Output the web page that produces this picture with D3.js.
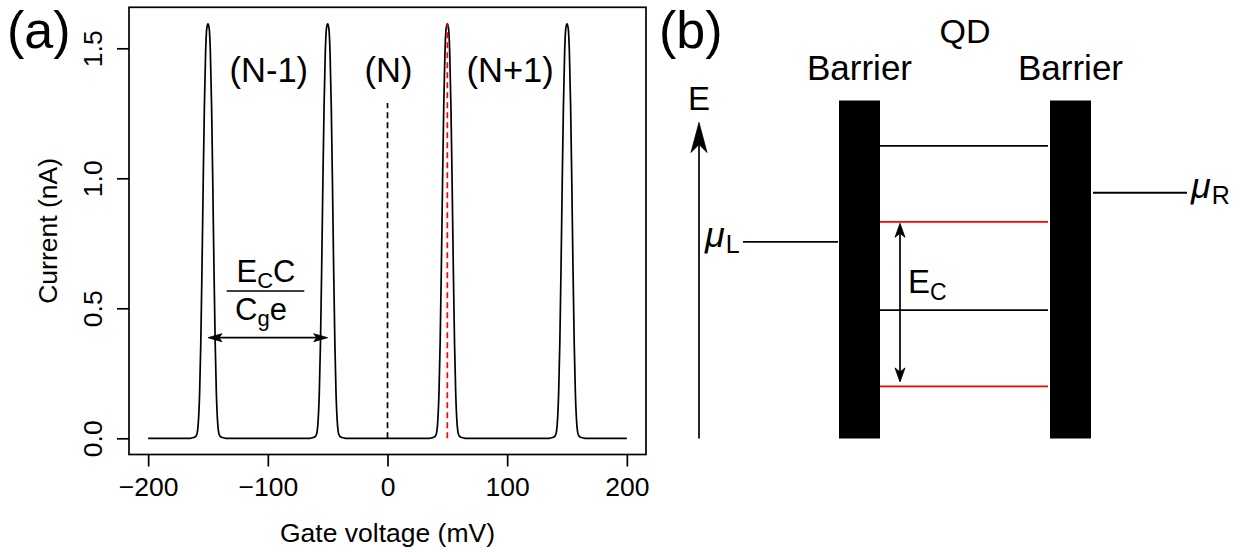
<!DOCTYPE html>
<html>
<head>
<meta charset="utf-8">
<script src="https://cdn.jsdelivr.net/npm/d3@7"></script>
<style>
  html, body { margin: 0; padding: 0; background: #fff; }
  svg { display: block; }
  text { font-family: "Liberation Sans", Arial, Helvetica, sans-serif; fill: #000; }
</style>
</head>
<body>
<svg id="fig" width="1249" height="552"></svg>
<script>
// ---------- data: panel (a), Coulomb blockade peaks ----------
const gateTicks = [-200, -100, 0, 100, 200];          // mV
const currentTicks = [0, 0.5, 1.0, 1.5];               // nA
const gateRange = [-200, 200];                          // sweep limits, mV
const peakCentres = [-150, -50, 50, 150];               // mV
// one peak, read as offset from its centre (mV) and current (nA)
const peakOffset  = [-16, -14, -12, -11, -10, -9, -8, -7, -6, -5, -4, -3, -2, -1, 0,
                      1, 2, 3, 4, 5, 6, 7, 8, 9, 10, 11, 12, 14, 16];
const peakCurrent = [0, 0.001, 0.003, 0.005, 0.009, 0.021, 0.066, 0.172, 0.369, 0.655, 0.983, 1.279, 1.482, 1.577, 1.594,
                      1.577, 1.482, 1.279, 0.983, 0.655, 0.369, 0.172, 0.066, 0.021, 0.009, 0.005, 0.003, 0.001, 0];
const stateLabels = ["(N-1)", "(N)", "(N+1)"];
const stateGate   = [-100, 0, 100];                     // mV, label centres
const blackMarker = { gate: 0, top: 1.29 };             // dashed guide in (N)
const redMarker   = { gate: 50, top: 1.594 };           // dashed guide on N->N+1 peak
const spacingArrow = { from: -150, to: -50, current: 0.387 };

// ---------- data: panel (b), energy diagram (arbitrary energy units) ----------
const dotLevels        = [8.66, 3.80];   // black levels in the dot
const transitionLevels = [6.41, 1.54];   // red levels in the dot
const leadLeft  = 5.82;                  // mu_L
const leadRight = 7.27;                  // mu_R
const barrierTop = 10;
const energyAxisTop = 9.35;

const svg = d3.select("#fig");

// ====================== panel (a) ======================
const box = { left: 129, right: 646, top: 7.3, bottom: 454.5 };
const x = d3.scaleLinear().domain([-216, 216]).range([box.left, box.right]);
const y = d3.scaleLinear().domain([-0.0623, 1.6577]).range([box.bottom, box.top]);

const gA = svg.append("g");

// series assembled from the sampled peak profile
const series = [[gateRange[0], 0]];
peakCentres.forEach(c => peakOffset.forEach((o, i) => series.push([c + o, peakCurrent[i]])));
series.push([gateRange[1], 0]);
series.sort((a, b) => a[0] - b[0]);

const line = d3.line().x(d => x(d[0])).y(d => y(d[1])).curve(d3.curveMonotoneX);
gA.append("path").datum(series)
  .attr("d", line).attr("fill", "none").attr("stroke", "#000").attr("stroke-width", 1.7);

// dashed guides
gA.append("line")
  .attr("x1", x(blackMarker.gate)).attr("x2", x(blackMarker.gate))
  .attr("y1", y(0)).attr("y2", y(blackMarker.top))
  .attr("stroke", "#000").attr("stroke-width", 1.7).attr("stroke-dasharray", "6,4");
gA.append("line")
  .attr("x1", x(redMarker.gate)).attr("x2", x(redMarker.gate))
  .attr("y1", y(0)).attr("y2", y(redMarker.top))
  .attr("stroke", "#ff0000").attr("stroke-width", 1.7).attr("stroke-dasharray", "6,4");

// frame
gA.append("rect")
  .attr("x", box.left).attr("y", box.top)
  .attr("width", box.right - box.left).attr("height", box.bottom - box.top)
  .attr("fill", "none").attr("stroke", "#000").attr("stroke-width", 1.7);

// axes
const tickFont = 26.5;
const xAxis = d3.axisBottom(x).tickValues(gateTicks).tickSize(12).tickPadding(10.5);
const gx = gA.append("g").attr("transform", `translate(0,${box.bottom})`).call(xAxis);
gx.select(".domain").remove();
gx.selectAll(".tick line").attr("stroke-width", 1.7);
gx.selectAll(".tick text").style("font-size", tickFont + "px").attr("font-family", null);

const yAxis = d3.axisLeft(y).tickValues(currentTicks).tickFormat(d3.format(".1f")).tickSize(12);
const gy = gA.append("g").attr("transform", `translate(${box.left},0)`).call(yAxis);
gy.select(".domain").remove();
gy.selectAll(".tick line").attr("stroke-width", 1.7);
gy.selectAll(".tick text")
  .attr("x", 0).attr("y", -27).attr("dy", 0)
  .attr("transform", "rotate(-90)")
  .attr("text-anchor", "middle")
  .attr("font-family", null)
  .style("font-size", tickFont + "px");

// axis titles
gA.append("text")
  .attr("x", (box.left + box.right) / 2).attr("y", 542)
  .attr("text-anchor", "middle").style("font-size", "26.5px")
  .text("Gate voltage (mV)");
gA.append("text")
  .attr("transform", `translate(57,${(box.top + box.bottom) / 2}) rotate(-90)`)
  .attr("text-anchor", "middle").style("font-size", "26.5px")
  .text("Current (nA)");

// charge-state labels
gA.selectAll(".state").data(stateLabels).join("text")
  .attr("class", "state")
  .attr("x", (d, i) => x(stateGate[i]) + (i === 2 ? 3 : 1)).attr("y", 82)
  .attr("text-anchor", "middle").style("font-size", "34.5px")
  .text(d => d);

// arrowhead helper: filled, slightly notched head pointing along (dx,dy) to tip (tx,ty)
function head(g, tx, ty, dx, dy, len, half, notch) {
  const n = Math.hypot(dx, dy), ux = dx / n, uy = dy / n, px = -uy, py = ux;
  const bx = tx - ux * len, by = ty - uy * len;
  const nx = tx - ux * notch, ny = ty - uy * notch;
  g.append("path")
    .attr("d", `M${tx},${ty}L${bx + px * half},${by + py * half}L${nx},${ny}L${bx - px * half},${by - py * half}Z`)
    .attr("fill", "#000").attr("stroke", "#000").attr("stroke-width", 0.8).attr("stroke-linejoin", "miter");
}

// peak spacing arrow
const ax1 = x(spacingArrow.from), ax2 = x(spacingArrow.to), ay = y(spacingArrow.current);
gA.append("line").attr("x1", ax1 + 4).attr("x2", ax2 - 4).attr("y1", ay).attr("y2", ay)
  .attr("stroke", "#000").attr("stroke-width", 1.7);
head(gA, ax1, ay, -1, 0, 14, 4, 11);
head(gA, ax2, ay, 1, 0, 14, 4, 11);

// E_C C / C_g e
const num = gA.append("text").attr("x", 266).attr("y", 282).attr("text-anchor", "middle").style("font-size", "31px");
num.append("tspan").text("E");
num.append("tspan").attr("dy", 6).style("font-size", "22px").text("C");
num.append("tspan").attr("dy", -6).text("C");
gA.append("line").attr("x1", 226.7).attr("x2", 304.3).attr("y1", 291).attr("y2", 291)
  .attr("stroke", "#000").attr("stroke-width", 1.7);
const den = gA.append("text").attr("x", 261).attr("y", 320).attr("text-anchor", "middle").style("font-size", "31px");
den.append("tspan").text("C");
den.append("tspan").attr("dy", 6).style("font-size", "22px").text("g");
den.append("tspan").attr("dy", -6).text("e");

// panel letters
svg.append("text").attr("x", 7).attr("y", 48).style("font-size", "52px").text("(a)");
svg.append("text").attr("x", 659).attr("y", 48).style("font-size", "52px").text("(b)");

// ====================== panel (b) ======================
const gB = svg.append("g");
const yE = d3.scaleLinear().domain([0, barrierTop]).range([438.5, 100.5]);
const barrierL = { x0: 839, x1: 880 };
const barrierR = { x0: 1050, x1: 1091 };
const axisX = 699;

// energy axis
gB.append("line").attr("x1", axisX).attr("x2", axisX)
  .attr("y1", yE(0)).attr("y2", yE(energyAxisTop) + 10)
  .attr("stroke", "#000").attr("stroke-width", 1.7);
head(gB, axisX, yE(energyAxisTop), 0, -1, 30, 8, 22);
gB.append("text").attr("x", axisX).attr("y", 110).attr("text-anchor", "middle")
  .style("font-size", "33px").text("E");

// barriers
[barrierL, barrierR].forEach(b => {
  gB.append("rect").attr("x", b.x0).attr("y", yE(barrierTop))
    .attr("width", b.x1 - b.x0).attr("height", yE(0) - yE(barrierTop)).attr("fill", "#000");
  gB.append("text").attr("x", (b.x0 + b.x1) / 2).attr("y", 80).attr("text-anchor", "middle")
    .style("font-size", "35px").text("Barrier");
});
gB.append("text").attr("x", (barrierL.x0 + barrierR.x1) / 2).attr("y", 43).attr("text-anchor", "middle")
  .style("font-size", "34px").text("QD");

// dot levels
gB.selectAll(".lvl").data(dotLevels).join("line").attr("class", "lvl")
  .attr("x1", barrierL.x1).attr("x2", barrierR.x0 - 2)
  .attr("y1", d => yE(d)).attr("y2", d => yE(d))
  .attr("stroke", "#000").attr("stroke-width", 1.8);
gB.selectAll(".tlvl").data(transitionLevels).join("line").attr("class", "tlvl")
  .attr("x1", barrierL.x1).attr("x2", barrierR.x0 - 2)
  .attr("y1", d => yE(d)).attr("y2", d => yE(d))
  .attr("stroke", "#ff0000").attr("stroke-width", 1.8);

// lead potentials
gB.append("line").attr("x1", 743).attr("x2", barrierL.x0 - 1)
  .attr("y1", yE(leadLeft)).attr("y2", yE(leadLeft)).attr("stroke", "#000").attr("stroke-width", 1.8);
gB.append("line").attr("x1", barrierR.x1 + 2).attr("x2", 1187)
  .attr("y1", yE(leadRight)).attr("y2", yE(leadRight)).attr("stroke", "#000").attr("stroke-width", 1.8);

const muL = gB.append("text").attr("x", 705).attr("y", yE(leadLeft) + 5).style("font-size", "36px");
muL.append("tspan").style("font-style", "italic").text("μ");
muL.append("tspan").attr("dx", 1).attr("dy", 6).style("font-size", "25px").text("L");
const muR = gB.append("text").attr("x", 1191).attr("y", yE(leadRight) + 5).style("font-size", "36px");
muR.append("tspan").style("font-style", "italic").text("μ");
muR.append("tspan").attr("dx", 1).attr("dy", 6).style("font-size", "25px").text("R");

// charging energy arrow
const ecX = 900;
const ecTop = yE(transitionLevels[0]) + 1.5, ecBot = yE(transitionLevels[1]) - 4.5;
gB.append("line").attr("x1", ecX).attr("x2", ecX).attr("y1", ecTop + 8).attr("y2", ecBot - 8)
  .attr("stroke", "#000").attr("stroke-width", 1.7);
head(gB, ecX, ecTop, 0, -1, 14, 5, 10);
head(gB, ecX, ecBot, 0, 1, 14, 5, 10);
const ec = gB.append("text").attr("x", 908).attr("y", 293).style("font-size", "33px");
ec.append("tspan").text("E");
ec.append("tspan").attr("dy", 7).style("font-size", "23px").text("C");
</script>
</body>
</html>
